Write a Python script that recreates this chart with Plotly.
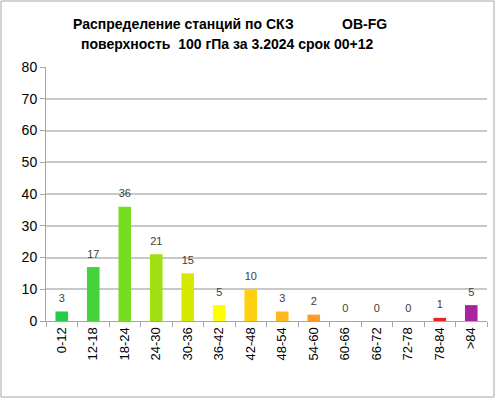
import plotly.graph_objects as go

categories = ["0-12", "12-18", "18-24", "24-30", "30-36", "36-42", "42-48",
              "48-54", "54-60", "60-66", "66-72", "72-78", "78-84", ">84"]
values = [3, 17, 36, 21, 15, 5, 10, 3, 2, 0, 0, 0, 1, 5]
colors = ["#22cc44", "#44d33a", "#77dd22", "#a0e010", "#d4e800", "#ffff00",
          "#ffd010", "#ffb820", "#ff9a28", "#ff6a28", "#ff4a28", "#ff3028",
          "#ee2222", "#aa22a0"]
title1 = "Распределение станций по СКЗ"
title2 = "OB-FG"
title3 = "поверхность  100 гПа за 3.2024 срок 00+12"

FONT = "Liberation Sans"
fig = go.Figure()
fig.add_trace(go.Bar(x=categories, y=values, marker=dict(color=colors, line=dict(width=0)),
                     width=0.4, hoverinfo="skip"))
fig.add_trace(go.Scatter(x=categories, y=values, mode="markers+text", text=[str(v) for v in values],
                         textposition="top center",
                         marker=dict(size=9, opacity=0),
                         textfont=dict(family=FONT, size=11, color="#404040"),
                         hoverinfo="skip"))

L, R, T, B = 46, 9, 67, 78
W, H = 496, 399
pw, ph = W - L - R, H - T - B

def px(x):
    return (x - L) / pw

def py(y):
    return (H - B - y) / ph

fig.add_shape(type="rect", xref="paper", yref="paper",
              x0=px(1), x1=px(494), y0=py(397), y1=py(1),
              line=dict(color="#a6a6a6", width=1), layer="below")

fig.add_annotation(text="<b>" + title1 + "</b>", xref="paper", yref="paper",
                   x=px(183), y=py(24), showarrow=False, xanchor="center", yanchor="middle",
                   font=dict(family=FONT, size=14, color="#000000"))
fig.add_annotation(text="<b>" + title2 + "</b>", xref="paper", yref="paper",
                   x=px(364), y=py(24), showarrow=False, xanchor="center", yanchor="middle",
                   font=dict(family=FONT, size=14, color="#000000"))
fig.add_annotation(text="<b>" + title3 + "</b>", xref="paper", yref="paper",
                   x=px(227), y=py(44), showarrow=False, xanchor="center", yanchor="middle",
                   font=dict(family=FONT, size=14, color="#000000"))

fig.update_layout(
    width=W, height=H,
    margin=dict(l=L, r=R, t=T, b=B),
    paper_bgcolor="white", plot_bgcolor="white",
    showlegend=False,
    xaxis=dict(type="category", tickangle=-90, ticks="outside", tickson="boundaries",
               ticklen=5, tickcolor="#a6a6a6", showline=True, linecolor="#a6a6a6",
               linewidth=1, showgrid=False,
               tickfont=dict(family=FONT, size=13, color="#000000"),
               range=[-0.5, 13.5]),
    yaxis=dict(range=[0, 80], dtick=10, ticks="outside", ticklen=5, tickcolor="#a6a6a6",
               showline=True, linecolor="#a6a6a6", linewidth=1,
               showgrid=True, gridcolor="#c8c8c8", gridwidth=1.5, zeroline=False,
               tickfont=dict(family=FONT, size=14, color="#000000")),
)
fig.write_html("out.html", config={"displayModeBar": False},
               post_script="document.body.style.margin='0';document.body.style.overflow='hidden';")
